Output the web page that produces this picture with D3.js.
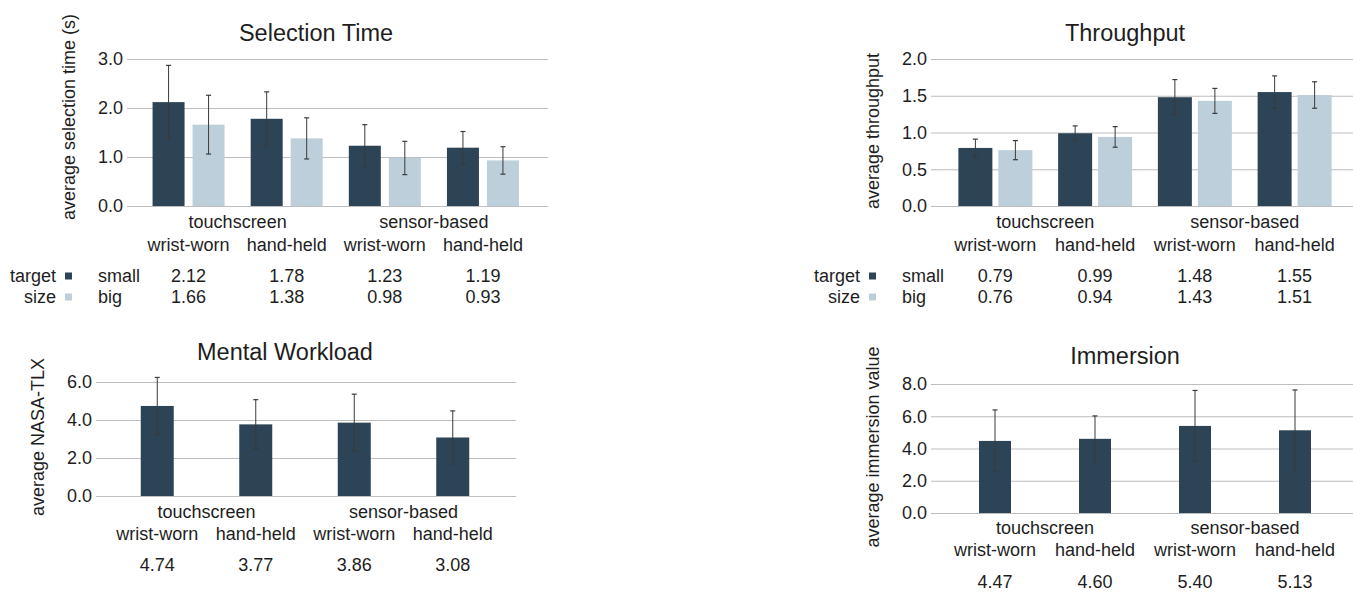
<!DOCTYPE html>
<html>
<head>
<meta charset="utf-8">
<script src="https://cdn.jsdelivr.net/npm/d3@7/dist/d3.min.js"></script>
<style>
  html, body { margin: 0; padding: 0; background: #ffffff; }
  svg { display: block; }
  text { font-family: "Liberation Sans", Arial, Helvetica, sans-serif; fill: #1e1e1e; }
</style>
</head>
<body>
<svg id="chart" width="1353" height="592"></svg>
<script>
// ---------------- data ----------------
const interfaces = ["touchscreen", "sensor-based"];
const devices = ["wrist-worn", "hand-held", "wrist-worn", "hand-held"];
const sizeSeries = ["small", "big"];

const selTimeSmall = [2.12, 1.78, 1.23, 1.19];
const selTimeBig   = [1.66, 1.38, 0.98, 0.93];
const selTimeSmallSD = [0.75, 0.55, 0.43, 0.33];
const selTimeBigSD   = [0.60, 0.42, 0.34, 0.28];
const selTimeTicks = [0, 1, 2, 3];

const throughputSmall = [0.79, 0.99, 1.48, 1.55];
const throughputBig   = [0.76, 0.94, 1.43, 1.51];
const throughputSmallSD = [0.12, 0.10, 0.24, 0.22];
const throughputBigSD   = [0.13, 0.14, 0.17, 0.18];
const throughputTicks = [0, 0.5, 1, 1.5, 2];

const workload   = [4.74, 3.77, 3.86, 3.08];
const workloadSD = [1.50, 1.30, 1.50, 1.40];
const workloadTicks = [0, 2, 4, 6];

const immersion   = [4.47, 4.60, 5.40, 5.13];
const immersionSD = [1.92, 1.42, 2.20, 2.50];
const immersionTicks = [0, 2, 4, 6, 8];

// ---------------- style ----------------
const DARK = "#2c4456";
const LIGHT = "#bdcfdb";
const GRID = "#bdbdbd";
const ERR = "#3a3a3a";

const svg = d3.select("#chart");
const f1 = d3.format(".1f");
const f2 = d3.format(".2f");

function drawPanel(cfg) {
  const g = svg.append("g");
  const y = d3.scaleLinear().domain([0, cfg.max]).range([cfg.yBase, cfg.yTop]);
  const x = d3.scaleBand().domain(d3.range(devices.length)).range([cfg.bx0, cfg.bx1]);
  const xs = d3.scaleBand().domain(cfg.series.map(s => s.name))
    .range([-cfg.half, cfg.half]).paddingInner(cfg.pad);
  const cx = i => x(i) + x.bandwidth() / 2;

  // grid + tick labels
  const ax = g.append("g")
    .attr("transform", `translate(${cfg.gx0},0)`)
    .call(d3.axisLeft(y).tickValues(cfg.ticks).tickFormat(f1)
      .tickSize(-(cfg.gx1 - cfg.gx0)).tickPadding(4));
  ax.select(".domain").remove();
  ax.selectAll(".tick line").attr("stroke", GRID).attr("stroke-width", 1);
  ax.selectAll(".tick text").attr("font-size", 18).attr("fill", "#1e1e1e")
    .style("font-family", "'Liberation Sans', Arial, sans-serif");

  // bars
  cfg.series.forEach(s => {
    const bars = g.append("g");
    s.values.forEach((v, i) => {
      const bx = cx(i) + xs(s.name);
      bars.append("rect")
        .attr("x", bx).attr("width", xs.bandwidth())
        .attr("y", y(v)).attr("height", y(0) - y(v))
        .attr("fill", s.color);
      const ex = bx + xs.bandwidth() / 2;
      const lo = v - s.sd[i], hi = v + s.sd[i];
      bars.append("line").attr("x1", ex).attr("x2", ex)
        .attr("y1", y(lo)).attr("y2", y(hi))
        .attr("stroke", ERR).attr("stroke-width", 1);
      [lo, hi].forEach(e => {
        bars.append("line").attr("x1", ex - 2.5).attr("x2", ex + 2.5)
          .attr("y1", y(e)).attr("y2", y(e))
          .attr("stroke", ERR).attr("stroke-width", 1.2);
      });
    });
  });

  // title
  g.append("text").attr("x", cfg.titleX).attr("y", cfg.titleY)
    .attr("text-anchor", "middle").attr("dominant-baseline", "central")
    .attr("font-size", 23.5).text(cfg.title);

  // y axis title
  g.append("text")
    .attr("transform", `translate(${cfg.gx0 - 58},${cfg.yTitleY}) rotate(-90)`)
    .attr("text-anchor", "middle").attr("dominant-baseline", "central")
    .attr("font-size", 18).text(cfg.yTitle);

  // category labels
  interfaces.forEach((lab, k) => {
    g.append("text").attr("x", (cx(2 * k) + cx(2 * k + 1)) / 2).attr("y", cfg.row1)
      .attr("text-anchor", "middle").attr("dominant-baseline", "central")
      .attr("font-size", 18).text(lab);
  });
  devices.forEach((lab, i) => {
    g.append("text").attr("x", cx(i)).attr("y", cfg.row2)
      .attr("text-anchor", "middle").attr("dominant-baseline", "central")
      .attr("font-size", 18).text(lab);
  });

  // value table
  cfg.series.forEach((s, r) => {
    const ry = cfg.tableY[r];
    s.values.forEach((v, i) => {
      g.append("text").attr("x", cx(i)).attr("y", ry)
        .attr("text-anchor", "middle").attr("dominant-baseline", "central")
        .attr("font-size", 18).text(f2(v));
    });
    if (cfg.series.length > 1) {
      g.append("text").attr("x", cfg.gx0 - 71).attr("y", ry)
        .attr("text-anchor", "end").attr("dominant-baseline", "central")
        .attr("font-size", 18).text(cfg.legendWords[r]);
      g.append("rect").attr("x", cfg.gx0 - 62).attr("y", ry - 3.5)
        .attr("width", 7).attr("height", 7).attr("fill", s.color);
      g.append("text").attr("x", cfg.gx0 - 29).attr("y", ry)
        .attr("text-anchor", "start").attr("dominant-baseline", "central")
        .attr("font-size", 18).text(s.name);
    }
  });
}

drawPanel({
  title: "Selection Time", titleX: 316, titleY: 33,
  yTitle: "average selection time (s)", yTitleY: 117,
  max: 3, ticks: selTimeTicks, yBase: 206, yTop: 59,
  gx0: 127, gx1: 548, bx0: 139.5, bx1: 532, half: 36, pad: 0.2,
  row1: 222, row2: 245, tableY: [276, 297], legendWords: ["target", "size"],
  series: [
    { name: sizeSeries[0], values: selTimeSmall, sd: selTimeSmallSD, color: DARK },
    { name: sizeSeries[1], values: selTimeBig, sd: selTimeBigSD, color: LIGHT }
  ]
});

drawPanel({
  title: "Throughput", titleX: 1125, titleY: 33,
  yTitle: "average throughput", yTitleY: 131,
  max: 2, ticks: throughputTicks, yBase: 206, yTop: 59,
  gx0: 931, gx1: 1353, bx0: 945.5, bx1: 1344.5, half: 37, pad: 0.15,
  row1: 222, row2: 245, tableY: [276, 297], legendWords: ["target", "size"],
  series: [
    { name: sizeSeries[0], values: throughputSmall, sd: throughputSmallSD, color: DARK },
    { name: sizeSeries[1], values: throughputBig, sd: throughputBigSD, color: LIGHT }
  ]
});

drawPanel({
  title: "Mental Workload", titleX: 285, titleY: 352,
  yTitle: "average NASA-TLX", yTitleY: 437,
  max: 6, ticks: workloadTicks, yBase: 496, yTop: 382,
  gx0: 96, gx1: 516, bx0: 108, bx1: 502, half: 16.5, pad: 0,
  row1: 512, row2: 534, tableY: [565], legendWords: [],
  series: [
    { name: "mean", values: workload, sd: workloadSD, color: DARK }
  ]
});

drawPanel({
  title: "Immersion", titleX: 1125, titleY: 356,
  yTitle: "average immersion value", yTitleY: 447,
  max: 8, ticks: immersionTicks, yBase: 513, yTop: 384,
  gx0: 931, gx1: 1353, bx0: 945, bx1: 1345, half: 16, pad: 0,
  row1: 528, row2: 550, tableY: [582], legendWords: [],
  series: [
    { name: "mean", values: immersion, sd: immersionSD, color: DARK }
  ]
});
</script>
</body>
</html>
